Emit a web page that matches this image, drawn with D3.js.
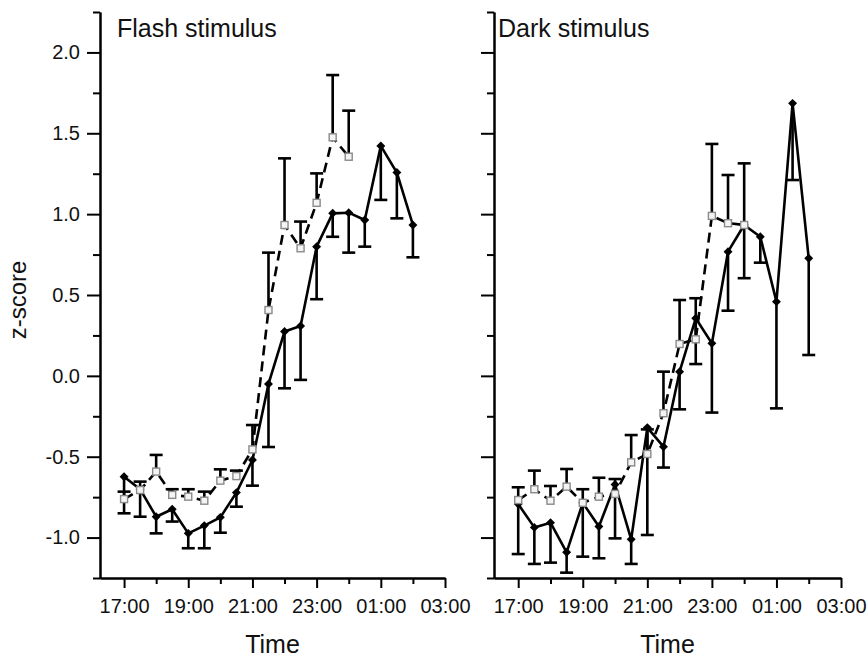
<!DOCTYPE html>
<html>
<head>
<meta charset="utf-8">
<script src="https://cdn.jsdelivr.net/npm/d3@7"></script>
<style>
  html, body { margin: 0; padding: 0; background: #ffffff; }
  svg { display: block; font-family: "Liberation Sans", Arial, sans-serif; }
</style>
</head>
<body>
<svg id="chart" width="868" height="657"></svg>
<script>
// ---------------- DATA ----------------
// hours (24h clock, values after midnight continue as 24, 25, ...)
const timesSolid = [17, 17.5, 18, 18.5, 19, 19.5, 20, 20.5, 21, 21.5, 22, 22.5, 23, 23.5, 24, 24.5, 25, 25.5, 26];
const timesDashed = [17, 17.5, 18, 18.5, 19, 19.5, 20, 20.5, 21, 21.5, 22, 22.5, 23, 23.5, 24];

// Flash stimulus
const flashSolid = [-0.624, -0.701, -0.871, -0.825, -0.974, -0.926, -0.875, -0.722, -0.520, -0.050, 0.274, 0.308, 0.799, 1.005, 1.009, 0.964, 1.422, 1.257, 0.933];
const flashSolidLow = [-0.850, -0.871, -0.974, -0.901, -1.066, -1.066, -0.970, -0.809, -0.679, -0.440, -0.077, -0.025, 0.474, 0.860, 0.762, 0.799, 1.088, 0.974, 0.733];
const flashDashed = [-0.762, -0.706, -0.592, -0.736, -0.747, -0.772, -0.648, -0.620, -0.455, 0.407, 0.933, 0.789, 1.070, 1.475, 1.355];
const flashDashedHigh = [-0.716, -0.654, -0.489, -0.701, -0.701, -0.716, -0.578, -0.586, -0.304, 0.762, 1.345, 0.954, 1.252, 1.860, 1.640];

// Dark stimulus
const darkSolid = [-0.793, -0.937, -0.908, -1.091, -0.785, -0.932, -0.672, -1.011, -0.320, -0.438, 0.026, 0.356, 0.201, 0.768, 0.933, 0.860, 0.459, 1.685, 0.727];
const darkSolidLow = [-1.102, -1.163, -1.155, -1.217, -1.118, -1.128, -1.005, -1.163, -0.984, -0.567, -0.207, 0.073, -0.227, 0.403, 0.604, 0.700, -0.201, 1.211, 0.129];
const darkDashed = [-0.768, -0.701, -0.772, -0.685, -0.785, -0.747, -0.730, -0.535, -0.483, -0.231, 0.197, 0.226, 0.989, 0.944, 0.933];
const darkDashedHigh = [-0.689, -0.586, -0.681, -0.576, -0.701, -0.630, -0.638, -0.366, -0.331, 0.026, 0.469, 0.480, 1.434, 1.242, 1.314];

// axes
const xMajorTicks = [17, 19, 21, 23, 25, 27];
const xTickLabels = ["17:00", "19:00", "21:00", "23:00", "01:00", "03:00"];
const xMinorTicks = [18, 20, 22, 24, 26];
const yMajorTicks = [-1.0, -0.5, 0.0, 0.5, 1.0, 1.5, 2.0];
const yTickLabels = ["-1.0", "-0.5", "0.0", "0.5", "1.0", "1.5", "2.0"];
const yMinorTicks = [-1.25, -0.75, -0.25, 0.25, 0.75, 1.25, 1.75, 2.25];
const panelTitles = ["Flash stimulus", "Dark stimulus"];

// ---------------- DRAW ----------------
const svg = d3.select("#chart");
const TXT = "#111";

const y = d3.scaleLinear().domain([-1.25, 2.25]).range([578, 12]);

const panels = [
  { title: panelTitles[0], x0: 100, x1: 445, titleX: 117, labels: true,
    solid: flashSolid, solidLow: flashSolidLow, dashed: flashDashed, dashedHigh: flashDashedHigh },
  { title: panelTitles[1], x0: 494, x1: 841, titleX: 498, labels: false,
    solid: darkSolid, solidLow: darkSolidLow, dashed: darkDashed, dashedHigh: darkDashedHigh }
];

function styleAxis(g) {
  g.select(".domain").attr("stroke", "#000").attr("stroke-width", 2);
  g.selectAll(".tick line").attr("stroke", "#000").attr("stroke-width", 2);
  g.selectAll(".tick text").attr("fill", TXT).attr("font-size", 20)
    .attr("font-family", "'Liberation Sans', Arial, sans-serif");
}

panels.forEach(p => {
  const x = d3.scaleLinear().domain([16.25, 27]).range([p.x0, p.x1]);
  const g = svg.append("g");

  // x axis minor
  g.append("g").attr("transform", `translate(0,${y(-1.25)})`)
    .call(d3.axisBottom(x).tickValues(xMinorTicks).tickSize(6).tickSizeOuter(0).tickFormat(""))
    .call(styleAxis);
  // x axis major
  g.append("g").attr("transform", `translate(0,${y(-1.25)})`)
    .call(d3.axisBottom(x).tickValues(xMajorTicks).tickSize(10).tickSizeOuter(0).tickPadding(11)
      .tickFormat((d, i) => xTickLabels[i]))
    .call(styleAxis);

  // y axis minor
  g.append("g").attr("transform", `translate(${p.x0},0)`)
    .call(d3.axisLeft(y).tickValues(yMinorTicks).tickSize(7).tickSizeOuter(0).tickFormat(""))
    .call(styleAxis);
  // y axis major
  g.append("g").attr("transform", `translate(${p.x0},0)`)
    .call(d3.axisLeft(y).tickValues(yMajorTicks).tickSize(13).tickSizeOuter(0).tickPadding(7)
      .tickFormat((d, i) => p.labels ? yTickLabels[i] : ""))
    .call(styleAxis);

  // title
  g.append("text").attr("x", p.titleX).attr("y", 37).attr("font-size", 25).attr("fill", TXT)
    .text(p.title);

  // x axis title
  g.append("text").attr("x", (p.x0 + p.x1) / 2).attr("y", 653).attr("text-anchor", "middle")
    .attr("font-size", 25).attr("fill", TXT).text("Time");

  const solidPts = timesSolid.map((t, i) => ({ t, v: p.solid[i], e: p.solidLow[i] }));
  const dashedPts = timesDashed.map((t, i) => ({ t, v: p.dashed[i], e: p.dashedHigh[i] }));
  const cap = 6.5;

  // error bars
  [solidPts, dashedPts].forEach(pts => {
    const eb = g.append("g").attr("stroke", "#000").attr("stroke-width", 2.6);
    eb.selectAll("line.v").data(pts).join("line")
      .attr("x1", d => x(d.t)).attr("x2", d => x(d.t))
      .attr("y1", d => y(d.v)).attr("y2", d => y(d.e));
    eb.selectAll("line.c").data(pts).join("line").attr("class", "c")
      .attr("x1", d => x(d.t) - cap).attr("x2", d => x(d.t) + cap)
      .attr("y1", d => y(d.e)).attr("y2", d => y(d.e));
  });

  const line = d3.line().x(d => x(d.t)).y(d => y(d.v));

  // solid line
  g.append("path").datum(solidPts).attr("d", line).attr("fill", "none")
    .attr("stroke", "#000").attr("stroke-width", 2.6).attr("stroke-linejoin", "round");
  // dashed line
  g.append("path").datum(dashedPts).attr("d", line).attr("fill", "none")
    .attr("stroke", "#000").attr("stroke-width", 2.6).attr("stroke-dasharray", "10,6");

  // diamond markers
  const diamond = d3.symbol().type(d3.symbolSquare).size(40);
  g.selectAll("path.dia").data(solidPts).join("path").attr("class", "dia")
    .attr("d", diamond)
    .attr("transform", d => `translate(${x(d.t)},${y(d.v)}) rotate(45)`)
    .attr("fill", "#000");

  // square markers
  g.selectAll("rect.sq").data(dashedPts).join("rect").attr("class", "sq")
    .attr("x", d => x(d.t) - 3.5).attr("y", d => y(d.v) - 3.5)
    .attr("width", 7).attr("height", 7)
    .attr("fill", "#f4f4f4").attr("stroke", "#8a8a8a").attr("stroke-width", 1.4);
});

// y axis title
svg.append("text").attr("transform", "translate(26,300) rotate(-90)")
  .attr("text-anchor", "middle").attr("font-size", 24).attr("fill", TXT).text("z-score");
</script>
</body>
</html>
